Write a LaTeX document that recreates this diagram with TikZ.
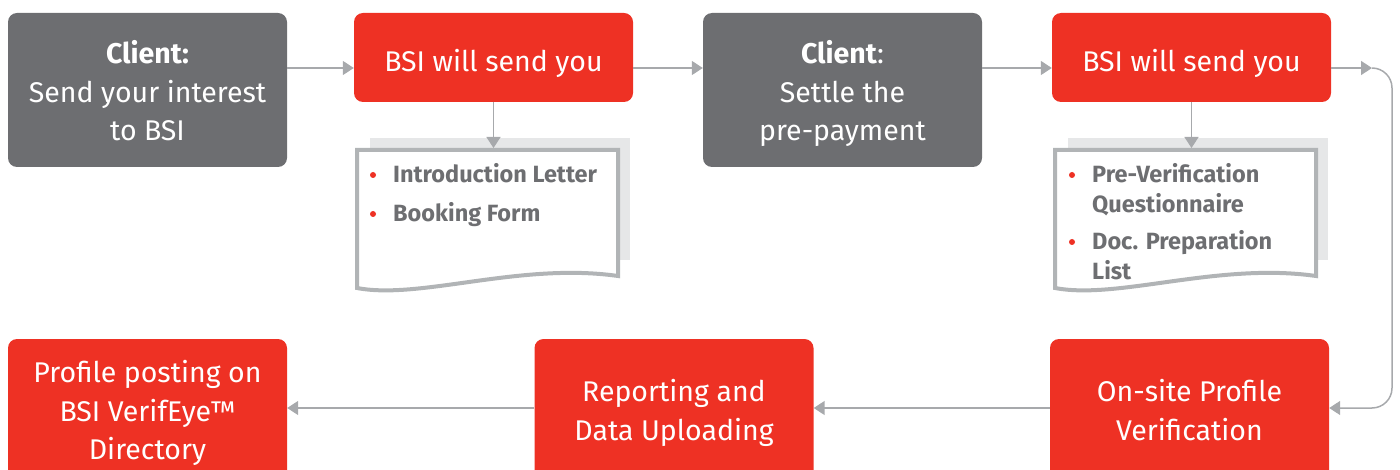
\documentclass[tikz,border=0pt]{standalone}
\usepackage{fontspec}
\setmainfont{Fira Sans}
\usetikzlibrary{arrows.meta}
\definecolor{bsired}{HTML}{EE3124}
\definecolor{bsigray}{HTML}{6D6E71}
\definecolor{linegray}{HTML}{A7A9AC}
\definecolor{docgray}{HTML}{B1B4B6}
\definecolor{shadowgray}{HTML}{E6E7E8}
\newcommand\boxstrut{\rule[-4.25pt]{0pt}{38.5pt}}
% lines of a box, set a little lower than the middle
\newcommand\steplines[1]{\raisebox{-4.5pt}[\height][\depth]{\begin{tabular}{@{}c@{}}#1\end{tabular}}}

\begin{document}
\begin{tikzpicture}[x=1pt,y=-1pt,
  stepbox/.style={rounded corners=9pt,minimum width=279pt,text=white,inner sep=0pt,
    font=\fontsize{28.5}{38.5}\selectfont},
  client/.style={stepbox,fill=bsigray,minimum height=154pt},
  bsi/.style={stepbox,fill=bsired,minimum height=89pt,execute at begin node=\boxstrut},
  result/.style={stepbox,fill=bsired,minimum height=140pt},
  arr/.style={draw=linegray,line width=1.5pt,-{Triangle[length=11pt,width=14pt]}},
  item/.style={anchor=base west,text=bsigray,font=\fontsize{23.5}{30}\selectfont\bfseries,inner sep=0pt},
  dot/.style={circle,fill=bsired,inner sep=0pt,minimum size=6pt}]
\useasboundingbox (0,0) rectangle (1400,470);
% top row
\node[client] (interest) at (147.5,90) {\steplines{\textbf{Client:}\\Send your interest\\to BSI}};
\node[bsi] (send1) at (493.5,57.5) {BSI will send you};
\node[client] (settle) at (842.5,90) {\steplines{\textbf{Client}:\\Settle the\\pre-payment}};
\node[bsi] (send2) at (1191.5,57.5) {BSI will send you};
% bottom row
\node[result] (posting) at (147.5,409) {\steplines{Profile posting on\\BSI VerifEye™\\Directory}};
\node[result] (report) at (674,409) {\steplines{Reporting and\\Data Uploading}};
\node[result] (visit) at (1189.5,409) {\steplines{On-site Profile\\Verification}};
% documents
\foreach \dx/\nm in {0/letters,698/forms} {
  \fill[shadowgray] (370+\dx,138) rectangle (630+\dx,260);
  \draw[docgray,line width=4pt,fill=white] (357+\dx,150) -- (618+\dx,150) -- (618+\dx,276)
     .. controls (520+\dx,262) and (420+\dx,300) .. (357+\dx,288) -- cycle;
  \coordinate (\nm) at (493.5+\dx,148);
}
\foreach \x/\y [count=\i] in {373/175,373/214,1072/175,1072/242}
  \node[dot] (bullet\i) at (\x,\y) {};
\node[item] (intro) at (393,183) {Introduction Letter};
\node[item] (booking) at (393,222) {Booking Form};
\node[item] (prever) at (1092,183) {Pre-Verification};
\node[item] (quest) at (1092,213) {Questionnaire};
\node[item] (docprep) at (1092,250) {Doc. Preparation};
\node[item] (list) at (1092,280) {List};
% connectors
\draw[arr] ([yshift=22pt]interest.east) -- ([yshift=22pt]interest.east -| send1.west);
\draw[arr] ([yshift=22pt]interest.east -| send1.east) -- ([yshift=22pt]settle.west);
\draw[arr] ([yshift=22pt]settle.east) -- ([yshift=22pt]settle.east -| send2.west);
\coordinate (turn) at (1372,68);
\draw[arr] ([yshift=22pt]settle.east -| send2.east) -- (turn);
\draw[arr,rounded corners=20pt] (turn) -- (1392,68) -- (1392,408) -- ([yshift=1pt]visit.east);
\draw[arr] ([yshift=1pt]visit.west) -- ([yshift=1pt]visit.west -| report.east);
\draw[arr] ([yshift=1pt]report.west) -- ([yshift=1pt]report.west -| posting.east);
\draw[arr] (send1.south) -- (letters);
\draw[arr] (send2.south) -- (forms);
\end{tikzpicture}
\end{document}
